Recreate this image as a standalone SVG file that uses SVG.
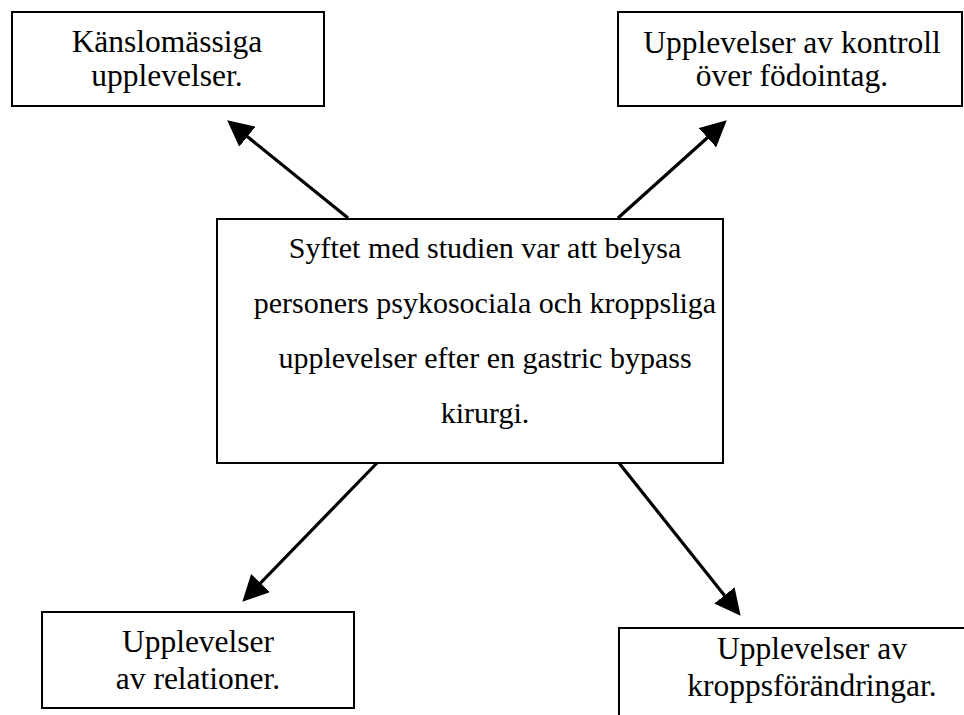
<svg xmlns="http://www.w3.org/2000/svg" width="964" height="715" viewBox="0 0 964 715" font-family="'Liberation Serif', 'Times New Roman', Times, serif">
<style>
.box{fill:#fff;stroke:#000;stroke-width:2}
text{font-family:'Liberation Serif','Times New Roman',Times,serif;font-size:31.5px;fill:#000;text-anchor:middle}
text.tc{font-size:30px}
.arr{stroke:#000;stroke-width:3.2;fill:none;marker-end:url(#ah)}
</style>
<defs>
<marker id="ah" markerUnits="userSpaceOnUse" markerWidth="26" markerHeight="26" refX="12" refY="12" orient="auto" viewBox="0 0 24 24">
<path d="M0,0 L24,12 L0,24 z" fill="#000"/>
</marker>
</defs>
<rect width="964" height="715" fill="#fff"/>
<g id="connectors">
<line class="arr" x1="348" y1="218" x2="237.3" y2="128.5"/>
<line class="arr" x1="618" y1="218" x2="717.1" y2="129"/>
<line class="arr" x1="377" y1="463" x2="251.4" y2="592.4"/>
<line class="arr" x1="619" y1="463" x2="732.5" y2="605.6"/>
</g>
<g id="node-center">
<rect class="box" x="217" y="219" width="506" height="244"/>
<text class="tc" x="485" y="258">Syftet med studien var att belysa</text>
<text class="tc" x="485" y="313">personers psykosociala och kroppsliga</text>
<text class="tc" x="485" y="368">upplevelser efter en gastric bypass</text>
<text class="tc" x="485" y="423">kirurgi.</text>
</g>
<g id="node-kanslo">
<rect class="box" x="12" y="12" width="312" height="94"/>
<text x="167" y="52">Känslomässiga</text>
<text x="167" y="86">upplevelser.</text>
</g>
<g id="node-kontroll">
<rect class="box" x="618" y="12" width="344" height="94"/>
<text x="792" y="53">Upplevelser av kontroll</text>
<text x="792" y="86">över födointag.</text>
</g>
<g id="node-relationer">
<rect class="box" x="42" y="612" width="312" height="96"/>
<text x="198" y="652">Upplevelser</text>
<text x="198" y="689">av relationer.</text>
</g>
<g id="node-kropp">
<rect class="box" x="619" y="628" width="390" height="100"/>
<text x="812" y="659">Upplevelser av</text>
<text x="812" y="696">kroppsförändringar.</text>
</g>
</svg>
